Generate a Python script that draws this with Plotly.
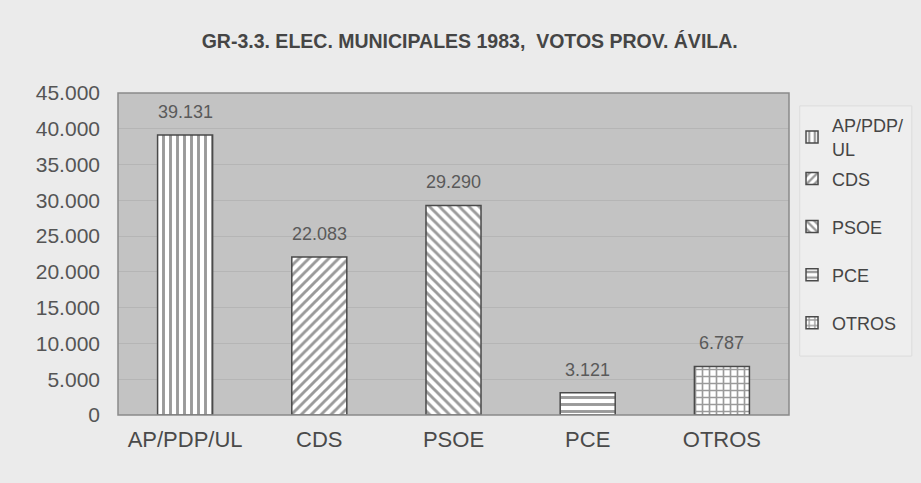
import plotly.graph_objects as go

categories = ["AP/PDP/UL", "CDS", "PSOE", "PCE", "OTROS"]
legend_names = ["AP/PDP/<br>UL", "CDS", "PSOE", "PCE", "OTROS"]
votes = [39131, 22083, 29290, 3121, 6787]
vote_labels = ["39.131", "22.083", "29.290", "3.121", "6.787"]
patterns = ["|", "/", "\\", "-", "+"]
tick_vals = [0, 5000, 10000, 15000, 20000, 25000, 30000, 35000, 40000, 45000]
tick_text = ["0", "5.000", "10.000", "15.000", "20.000", "25.000", "30.000", "35.000", "40.000", "45.000"]
legend_tops = [0.956, 0.791, 0.642, 0.492, 0.343]

FONT = "Liberation Sans, Arial, sans-serif"

fig = go.Figure()
legend_ids = ["legend", "legend2", "legend3", "legend4", "legend5"]
for i, cat in enumerate(categories):
    fig.add_trace(go.Bar(
        x=[cat], y=[votes[i]], name=legend_names[i],
        legend=legend_ids[i],
        width=0.41,
        marker=dict(
            color="white",
            line=dict(color="#4a4a4a", width=1.5),
            pattern=dict(shape=patterns[i], fgcolor="#363636", bgcolor="white",
                         size=7, solidity=0.42, fillmode="overlay"),
        ),
    ))
    fig.add_annotation(x=cat, y=votes[i], text=vote_labels[i], showarrow=False,
                       yshift=23, yanchor="middle",
                       font=dict(size=18, color="#5a5a5a", family=FONT))

legend_layout = {}
for i, lid in enumerate(legend_ids):
    legend_layout[lid] = dict(x=1.0045, y=legend_tops[i], xanchor="left", yanchor="top",
                              font=dict(size=18, color="#454545", family=FONT),
                              bgcolor="rgba(0,0,0,0)", borderwidth=0, itemwidth=30)

fig.update_layout(
    width=921, height=483,
    paper_bgcolor="#ebebeb",
    plot_bgcolor="#c3c3c3",
    margin=dict(l=118, r=132, t=93, b=68),
    title=dict(text="<b>GR-3.3. ELEC. MUNICIPALES 1983,  VOTOS PROV. ÁVILA.</b>",
               x=0.51, xanchor="center", y=0.915, yanchor="middle",
               font=dict(size=19.5, color="#454545", family=FONT)),
    bargap=0.59,
    showlegend=True,
    font=dict(family=FONT),
    **legend_layout,
)
fig.update_xaxes(
    showgrid=False, showline=False,
    tickfont=dict(size=22, color="#4a4a4a"),
    ticks="", ticklabelstandoff=9,
)
fig.update_yaxes(
    range=[0, 45000], tickvals=tick_vals, ticktext=tick_text,
    showgrid=True, gridcolor="#b5b5b5", gridwidth=1,
    showline=False, zeroline=False,
    tickfont=dict(size=21, color="#555555"),
    ticks="", ticklabelstandoff=17,
)
# plot-area frame
fig.add_shape(type="rect", xref="paper", yref="paper", x0=0, x1=1, y0=0, y1=1,
              line=dict(color="#8a8a8a", width=1.5), layer="above")
# faint legend box
fig.add_shape(type="rect", xref="paper", yref="paper", x0=1.016, x1=1.183, y0=0.183, y1=0.96,
              line=dict(color="#dcdcdc", width=1), fillcolor="#eeeeee", layer="below")

fig.write_html("out.html", config={"displayModeBar": False},
               post_script="document.body.style.margin='0';")
